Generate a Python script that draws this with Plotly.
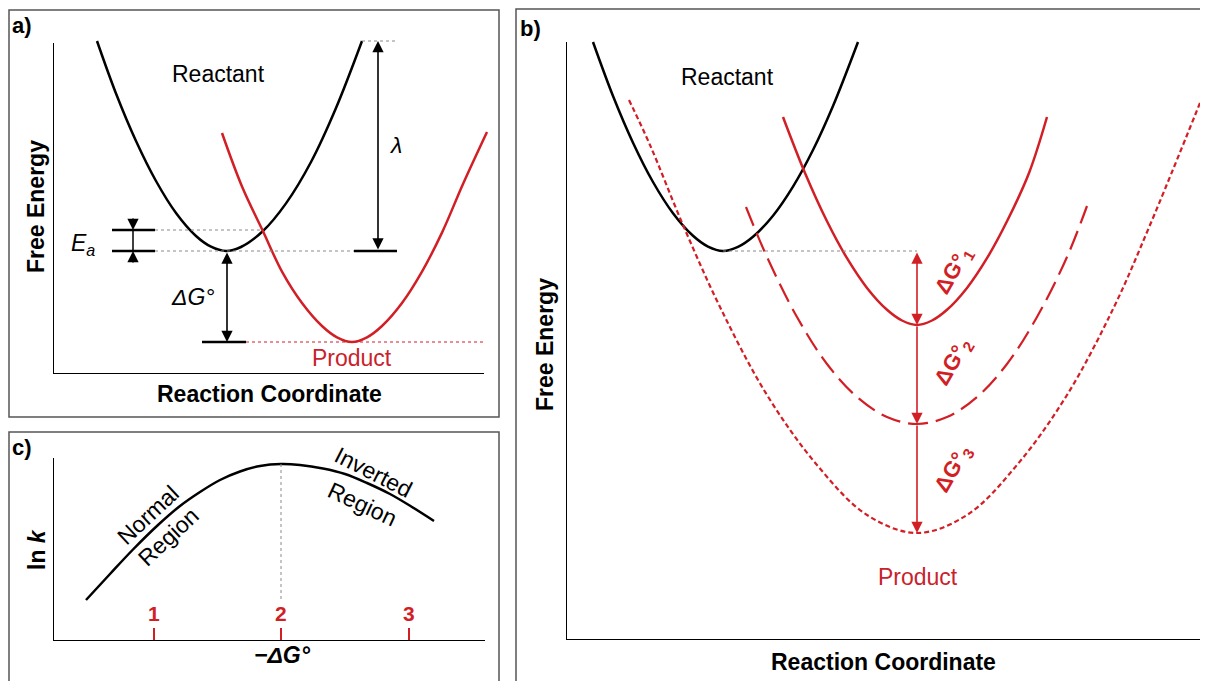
import plotly.graph_objects as go

# The page body has an 8px margin, so the figure is 1200x673 and offset by 8px.
OFF = 8
FW, FH = 1200, 673
FONT = "Liberation Sans, Arial, sans-serif"
RED = "#d21f26"
RED_TXT = "#c8232c"
GRAY = "#8a8a8a"

# ---------------- Panel a: free-energy parabolas ----------------
a_reactant_x = [44, 63, 83, 103, 123, 143, 158, 173, 188, 210, 233, 258, 283, 309]
a_reactant_y = [333, 280.5, 233, 193, 161, 138, 127.3, 123, 127, 143, 170.6, 212, 266, 333]
a_product_x = [169, 189, 210, 229, 249, 269, 284, 299, 314, 329, 349, 369, 389, 410, 434]
a_product_y = [241, 187.5, 142.7, 102.4, 71, 48, 36.7, 32, 36.7, 48, 71, 102.4, 141.4, 190, 242]
a_E_reactant = 123
a_E_product = 32
a_E_crossing = 144
a_E_lambda_top = 333

# ---------------- Panel b: three product surfaces ----------------
b_reactant_x = [27, 47, 67, 87, 107, 127, 142, 157, 172, 187, 207, 227, 247, 267, 292]
b_reactant_y = [598, 544, 497.3, 458, 426.8, 404.2, 393.4, 389, 393.1, 403.2, 424.3, 453.4, 490, 534, 598]
b_product1_x = [217, 239, 261, 281, 301, 321, 336, 351, 366, 381, 401, 421, 441, 463, 481]
b_product1_y = [523, 467, 418.7, 381.8, 352.1, 330.2, 319.5, 315, 319.5, 330.2, 352.1, 381.8, 418.7, 467, 523]
b_product2_x = [180, 201, 231, 261, 291, 321, 351, 381, 411, 441, 471, 501, 521]
b_product2_y = [433, 383, 323, 276, 243, 223, 216, 223, 243, 276, 323, 383, 434]
b_product3_x = [63, 84, 117, 154, 201, 251, 301, 351, 401, 451, 501, 548, 584, 636]
b_product3_y = [540, 495, 415, 333, 245, 175, 125, 107, 125, 175, 245, 333, 415, 542]
b_reactant_min = (157, 389)
b_minima_x = 351
b_minima_y = [389, 315, 216, 107]
b_dG_labels = ["1", "2", "3"]

# ---------------- Panel c: ln k vs -dG ----------------
c_x = [33, 57, 80, 105, 127, 147, 167, 187, 207, 228, 247, 270, 292, 314, 337, 359, 381]
c_y = [41, 67, 91.5, 116, 135, 149, 161, 169.5, 175, 177, 176, 172.5, 167, 158, 147, 134, 120]
c_tick_vals = [101, 228, 356]
c_tick_text = ["1", "2", "3"]


def xdom(x0, x1):
    return [max(0, (x0 - OFF) / FW), min(1, (x1 - OFF) / FW)]


def ydom(top, bottom):
    return [max(0, 1 - (bottom - OFF) / FH), min(1, 1 - (top - OFF) / FH)]


def px(x):
    return (x - OFF) / FW


def py(y):
    return 1 - (y - OFF) / FH


fig = go.Figure()


def line(xs, ys, ax, color, width=2.5, dash=None, spline=True):
    fig.add_trace(go.Scatter(
        x=xs, y=ys, mode="lines", xaxis="x" + ax, yaxis="y" + ax,
        line=dict(color=color, width=width, dash=dash,
                  shape="spline" if spline else "linear", smoothing=1.0),
        hoverinfo="skip", showlegend=False))


A, B, C = "", "2", "3"
# panel a
line(a_reactant_x, a_reactant_y, A, "black")
line(a_product_x, a_product_y, A, RED)
line([102, 210], [a_E_crossing] * 2, A, GRAY, 1, "dot", False)
line([102, 301], [a_E_reactant] * 2, A, GRAY, 1, "dot", False)
line([309, 345], [a_E_lambda_top] * 2, A, GRAY, 1, "dot", False)
line([193, 432], [a_E_product] * 2, A, RED, 1, "dot", False)
line([59, 102], [a_E_crossing] * 2, A, "black", 2.5, None, False)
line([59, 102], [a_E_reactant] * 2, A, "black", 2.5, None, False)
line([301, 344], [a_E_reactant] * 2, A, "black", 2.5, None, False)
line([149, 193], [a_E_product] * 2, A, "black", 2.5, None, False)
line([80, 80], [a_E_reactant, a_E_crossing], A, "black", 1.5, None, False)

# panel b
line(b_reactant_x, b_reactant_y, B, "black")
line(b_product1_x, b_product1_y, B, RED)
line(b_product2_x, b_product2_y, B, RED, 2.2, "20px,8px")
line(b_product3_x, b_product3_y, B, RED, 2.2, "5px,3px")
line([b_reactant_min[0], b_minima_x], [b_reactant_min[1]] * 2, B, GRAY, 1, "dot", False)

# panel c
line(c_x, c_y, C, "black")
line([c_tick_vals[1], c_tick_vals[1]], [max(c_y), 39], C, GRAY, 1, "dot", False)
for tv in c_tick_vals:
    line([tv, tv], [0, 13], C, RED, 2, None, False)

ann = []


def arrow(ax, x0, y0, x1, y1, color="black", both=False):
    ann.append(dict(xref="x" + ax, yref="y" + ax, axref="x" + ax, ayref="y" + ax,
                    x=x1, y=y1, ax=x0, ay=y0, text="", showarrow=True,
                    arrowhead=2, arrowsize=1.4, arrowwidth=1.6, arrowcolor=color,
                    startarrowhead=2, startarrowsize=1.4,
                    arrowside="end+start" if both else "end",
                    standoff=0, startstandoff=0))


def text(ax, x, y, s, size=23, color="black", angle=0, weight="normal"):
    d = dict(text=s, showarrow=False, textangle=angle,
             font=dict(family=FONT, size=size, color=color, weight=weight),
             xanchor="center", yanchor="middle")
    if ax is None:
        d.update(xref="paper", yref="paper", x=px(x), y=py(y))
    else:
        d.update(xref="x" + ax, yref="y" + ax, x=x, y=y)
    ann.append(d)


arrow(A, 325, a_E_reactant, 325, a_E_lambda_top, both=True)
arrow(A, 174, a_E_reactant, 174, a_E_product, both=True)
arrow(A, 80, 157, 80, a_E_crossing)
arrow(A, 80, 110, 80, a_E_reactant)
arrow(B, b_minima_x, b_minima_y[0], b_minima_x, b_minima_y[1], RED, both=True)
arrow(B, b_minima_x, b_minima_y[1], b_minima_x, b_minima_y[2], RED)
arrow(B, b_minima_x, b_minima_y[2], b_minima_x, b_minima_y[3], RED)

# panel a text
text(A, 165, 300, "Reactant")
text(A, 299, 16, "Product", color=RED_TXT)
text(A, 342, 229, "<i>λ</i>")
text(A, 140, 77, "<i>ΔG°</i>")
text(A, 30, 129, "<i>E<sub>a</sub></i>")
# panel b text
text(B, 161, 563, "Reactant")
text(B, 352, 63, "Product", color=RED_TXT)
label_lift = [17, 12, 9]
for i, lab in enumerate(b_dG_labels):
    ymid = (b_minima_y[i] + b_minima_y[i + 1]) / 2
    text(B, b_minima_x + 37, ymid + label_lift[i], "ΔG°<sub>" + lab + "</sub>", size=22,
         color=RED, angle=-60, weight="bold")
# panel c text
for tv, tt in zip(c_tick_vals, c_tick_text):
    text(C, tv, 28, tt, size=21, color=RED, weight="bold")
text(C, 95, 126, "Normal", angle=-43)
text(C, 115, 104, "Region", angle=-43)
text(C, 320, 169, "Inverted", angle=27)
text(C, 309, 137, "Region", angle=25)

# panel letters and axis titles
text(None, 22, 25, "a)", size=22, weight="bold")
text(None, 530, 28, "b)", size=22, weight="bold")
text(None, 22, 447, "c)", size=22, weight="bold")
text(None, 36, 207, "Free Energy", size=23, weight="bold", angle=-90)
text(None, 269, 394, "Reaction Coordinate", size=23, weight="bold")
text(None, 545, 345, "Free Energy", size=23, weight="bold", angle=-90)
text(None, 883, 662, "Reaction Coordinate", size=23, weight="bold")
text(None, 37, 550, "ln <i>k</i>", size=23, weight="bold", angle=-90)
text(None, 282, 655, "<i>−ΔG°</i>", size=23, weight="bold")

shapes = []
for ax, xe, ye in [(A, 431, 331), (B, 639, 598), (C, 432, 183)]:
    shapes.append(dict(type="line", xref="x" + ax, yref="y" + ax, x0=0, y0=0, x1=xe, y1=0,
                       line=dict(color="black", width=2)))
    shapes.append(dict(type="line", xref="x" + ax, yref="y" + ax, x0=0, y0=0, x1=0, y1=ye,
                       line=dict(color="black", width=2)))
for x0, y0, x1, y1 in [(9, 10, 499, 417), (9, 432, 499, 700), (516, 9, 1260, 700)]:
    shapes.append(dict(type="rect", xref="paper", yref="paper",
                       x0=px(x0), x1=px(x1), y0=py(y1), y1=py(y0),
                       line=dict(color="#555555", width=1.5)))

hidden = dict(visible=False, fixedrange=True)
fig.update_layout(
    width=FW, height=FH, margin=dict(l=0, r=0, t=0, b=0),
    paper_bgcolor="white", plot_bgcolor="white", showlegend=False,
    xaxis=dict(domain=xdom(53, 490), range=[0, 437], **hidden),
    yaxis=dict(domain=ydom(36, 374), range=[0, 338], **hidden),
    xaxis2=dict(domain=xdom(566, 1208), range=[0, 642], **hidden),
    yaxis2=dict(domain=ydom(38, 640), range=[0, 602], **hidden),
    xaxis3=dict(domain=xdom(53, 490), range=[0, 437], **hidden),
    yaxis3=dict(domain=ydom(455, 641), range=[0, 186], **hidden),
    annotations=ann, shapes=shapes,
)

fig.write_html("out.html")
